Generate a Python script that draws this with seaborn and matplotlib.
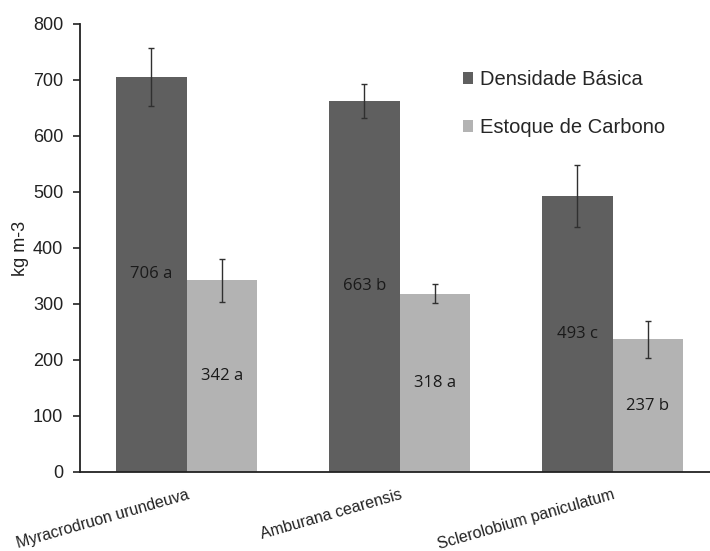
import matplotlib
matplotlib.use("Agg")
import matplotlib.pyplot as plt
from matplotlib.patches import Patch
import seaborn as sns
import pandas as pd

# Species and measured series (kg m-3)
species = ["Myracrodruon urundeuva", "Amburana cearensis", "Sclerolobium paniculatum"]
series_names = ["Densidade Básica", "Estoque de Carbono"]
densidade = [706, 663, 493]
densidade_err = [52, 30, 56]
densidade_letters = ["a", "b", "c"]
carbono = [342, 318, 237]
carbono_err = [39, 17, 33]
carbono_letters = ["a", "a", "b"]
y_ticks = [0, 100, 200, 300, 400, 500, 600, 700, 800]

colors = ["#5f5f5f", "#b3b3b3"]

df = pd.DataFrame({
    "species": species * 2,
    "serie": [series_names[0]] * 3 + [series_names[1]] * 3,
    "valor": densidade + carbono,
})

sns.set_style("white")
plt.rcParams["font.family"] = ["Liberation Sans", "DejaVu Sans"]

fig = plt.figure(figsize=(7.10, 5.51), dpi=100)
ax = fig.add_axes([80 / 710, (551 - 472) / 551, 639 / 710, 448 / 551])

sns.barplot(data=df, x="species", y="valor", hue="serie", palette=colors,
            width=0.66, gap=0, errorbar=None, saturation=1, ax=ax,
            legend=False, linewidth=0)

# Error bars and value labels, placed at the centre of each drawn bar
bars = sorted(ax.patches, key=lambda p: p.get_x())
order = []
for i in range(len(species)):
    order.append((densidade[i], densidade_err[i], f"{densidade[i]} {densidade_letters[i]}"))
    order.append((carbono[i], carbono_err[i], f"{carbono[i]} {carbono_letters[i]}"))
for bar, (val, err, txt) in zip(bars, order):
    cx = bar.get_x() + bar.get_width() / 2
    ax.errorbar(cx, val, yerr=err, fmt="none", ecolor="#303030",
                elinewidth=1.0, capsize=2.5, capthick=1.0)
    ax.text(cx, val / 2, txt, ha="center", va="center", fontsize=12,
            color="#1a1a1a", family=["Open Sans", "DejaVu Sans"])

ax.set_xlim(-0.5, 2.5)
ax.set_ylim(0, 800)
ax.set_yticks(y_ticks)
ax.set_yticklabels([str(t) for t in y_ticks], fontsize=13, color="#222222")
ax.set_xticks(range(len(species)))
ax.set_xticklabels(species, rotation=16, ha="right", rotation_mode="anchor",
                   fontsize=11.5, color="#222222")
ax.set_xticks([-0.5, 0.5, 1.5], minor=True)
ax.tick_params(axis="x", which="major", length=0, pad=11)
ax.tick_params(axis="x", which="minor", length=5, width=1.2, color="#222222",
               direction="out")
ax.tick_params(axis="y", length=5, width=1.2, color="#222222", direction="out",
               left=True, pad=7)
ax.set_xlabel("")
ax.set_ylabel("kg m-3", fontsize=13, color="#222222", labelpad=3)

for side in ["top", "right"]:
    ax.spines[side].set_visible(False)
for side in ["left", "bottom"]:
    ax.spines[side].set_color("#222222")
    ax.spines[side].set_linewidth(1.3)

handles = [Patch(facecolor=c, edgecolor="none") for c in colors]
ax.legend(handles, series_names, loc="upper left",
          bbox_to_anchor=(463 / 710, 1 - 70 / 551),
          bbox_transform=fig.transFigure, frameon=False, fontsize=14.5,
          handlelength=0.5, handleheight=0.5, handletextpad=0.35,
          labelspacing=1.45, borderaxespad=0, borderpad=0)

fig.savefig("out.png", dpi=100)
